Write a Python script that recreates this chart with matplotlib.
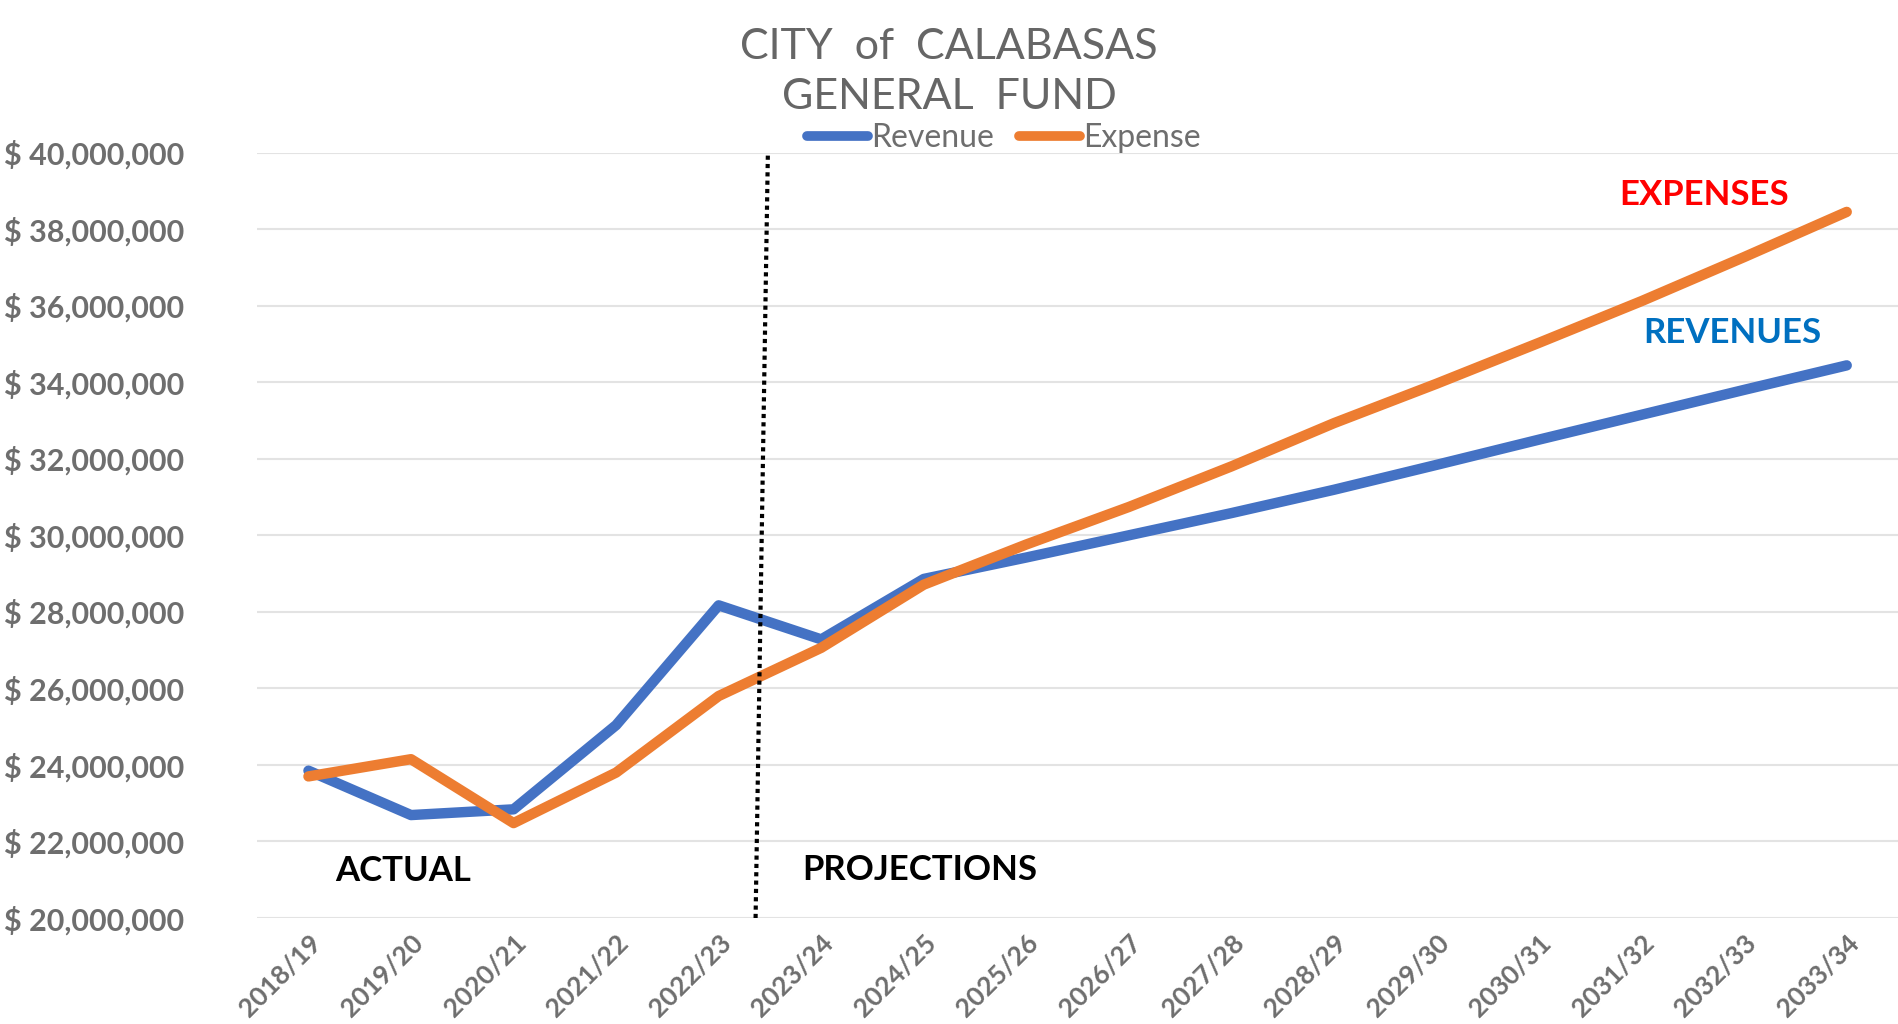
import matplotlib
matplotlib.use("Agg")
import matplotlib.pyplot as plt
from matplotlib.ticker import FuncFormatter

plt.rcParams["font.family"] = ["Lato", "DejaVu Sans"]

# fiscal years on the category axis
years = ["2018/19", "2019/20", "2020/21", "2021/22", "2022/23", "2023/24",
         "2024/25", "2025/26", "2026/27", "2027/28", "2028/29", "2029/30",
         "2030/31", "2031/32", "2032/33", "2033/34"]

# general fund totals, dollars
revenue = [23.85e6, 22.69e6, 22.84e6, 25.04e6, 28.17e6, 27.28e6,
           28.86e6, 29.42e6, 30.00e6, 30.58e6, 31.19e6, 31.84e6,
           32.50e6, 33.15e6, 33.80e6, 34.44e6]
expense = [23.70e6, 24.15e6, 22.48e6, 23.80e6, 25.80e6, 27.06e6,
           28.71e6, 29.76e6, 30.74e6, 31.80e6, 32.93e6, 33.96e6,
           35.03e6, 36.12e6, 37.27e6, 38.45e6]

blue = "#4472C4"
orange = "#ED7D31"
grey = "#6E6E6E"

fig = plt.figure(figsize=(18.98, 10.24), dpi=100)
ax = fig.add_axes([0.1355, 0.1035, 0.8645, 0.7475])

x = list(range(len(years)))
ax.plot(x, revenue, color=blue, lw=7.5, solid_capstyle="round",
        solid_joinstyle="round", label="Revenue", zorder=3)
ax.plot(x, expense, color=orange, lw=7.5, solid_capstyle="round",
        solid_joinstyle="round", label="Expense", zorder=4)

# actual / projection divider
ax.plot([4.36, 4.48], [20e6, 40e6], color="black", lw=3, ls=(0, (1, 1)), zorder=5)

ax.set_xlim(-0.5, len(years) - 0.5)
ax.set_ylim(20e6, 40e6)
ax.set_yticks([20e6 + i * 2e6 for i in range(11)])
ax.yaxis.set_major_formatter(FuncFormatter(lambda v, p: "$ {:,.0f}".format(v)))
ax.set_xticks(x)
ax.set_xticklabels(years, rotation=45, ha="right", rotation_mode="anchor")

ax.grid(axis="y", color="#E3E3E3", lw=1.5)
ax.set_axisbelow(True)
for s in ax.spines.values():
    s.set_visible(False)
ax.tick_params(axis="y", length=0, pad=0, labelsize=22, labelcolor=grey)
ax.tick_params(axis="x", length=0, pad=9, labelsize=19, labelcolor=grey)
for lbl in ax.get_yticklabels() + ax.get_xticklabels():
    lbl.set_fontweight("bold")
for lbl in ax.get_yticklabels():
    lbl.set_horizontalalignment("left")
    lbl.set_x(-0.1335 / 0.8645)

fig.text(0.5, 0.954, "CITY  of  CALABASAS", ha="center", va="center",
         fontsize=31, color="#666666")
fig.text(0.5, 0.905, "GENERAL  FUND", ha="center", va="center",
         fontsize=31, color="#666666")

leg = fig.legend(loc="center", bbox_to_anchor=(0.529, 0.865), ncol=2,
                 frameon=False, fontsize=23, handlelength=1.9,
                 handletextpad=0.1, columnspacing=0.8)
for t in leg.get_texts():
    t.set_color(grey)
for h in leg.get_lines():
    h.set_linewidth(7)

ax.text(13.61, 38.89e6, "EXPENSES", color="#FF0000", fontsize=25,
        fontweight="bold", ha="center", va="center")
ax.text(13.88, 35.28e6, "REVENUES", color="#0070C0", fontsize=25,
        fontweight="bold", ha="center", va="center")
ax.text(0.92, 21.23e6, "ACTUAL", color="black", fontsize=25,
        fontweight="bold", ha="center", va="center")
ax.text(5.96, 21.26e6, "PROJECTIONS", color="black", fontsize=25,
        fontweight="bold", ha="center", va="center")

fig.savefig("out.png", dpi=100, facecolor="white")
